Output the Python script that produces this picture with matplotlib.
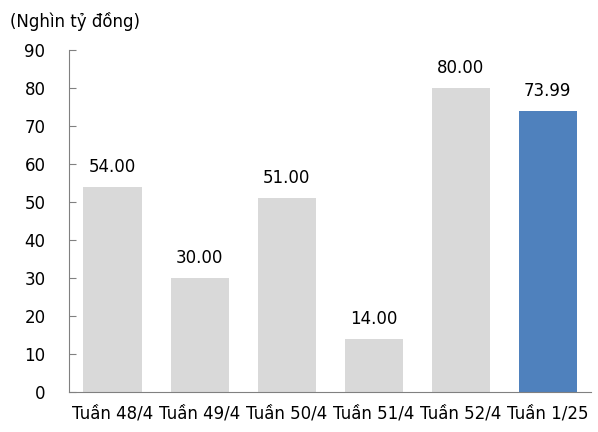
import matplotlib.pyplot as plt

# weekly values, nghìn tỷ đồng
weeks = ['Tuần 48/4', 'Tuần 49/4', 'Tuần 50/4', 'Tuần 51/4', 'Tuần 52/4', 'Tuần 1/25']
values = [54.00, 30.00, 51.00, 14.00, 80.00, 73.99]
y_ticks = [0, 10, 20, 30, 40, 50, 60, 70, 80, 90]

plt.rcParams['font.family'] = ['DejaVu Sans']

fig = plt.figure(figsize=(5.98, 4.32), dpi=100)
ax = fig.add_axes([0.1154, 0.0926, 0.873, 0.7914])

colors = ['#d9d9d9'] * (len(values) - 1) + ['#4f81bd']
x = range(len(weeks))
ax.bar(x, values, width=0.667, color=colors)

for xi, v in zip(x, values):
    ax.annotate(f'{v:.2f}', (xi, v), xytext=(0, 8), textcoords='offset points',
                ha='center', va='bottom', fontsize=12)

ax.set_xlim(-0.5, len(weeks) - 0.5)
ax.set_ylim(0, 90)
ax.set_yticks(y_ticks)
ax.set_xticks(list(x))
ax.set_xticklabels(weeks, fontsize=12)
ax.tick_params(axis='y', labelsize=12, length=5, direction='in', color='#808080', pad=17)
ax.tick_params(axis='x', length=0, pad=9)

for side in ['top', 'right']:
    ax.spines[side].set_visible(False)
ax.spines['left'].set_color('#808080')
ax.spines['bottom'].set_color('#808080')

fig.text(0.017, 0.95, '(Nghìn tỷ đồng)', fontsize=12, ha='left', va='center')

plt.savefig('out.png', dpi=100)
